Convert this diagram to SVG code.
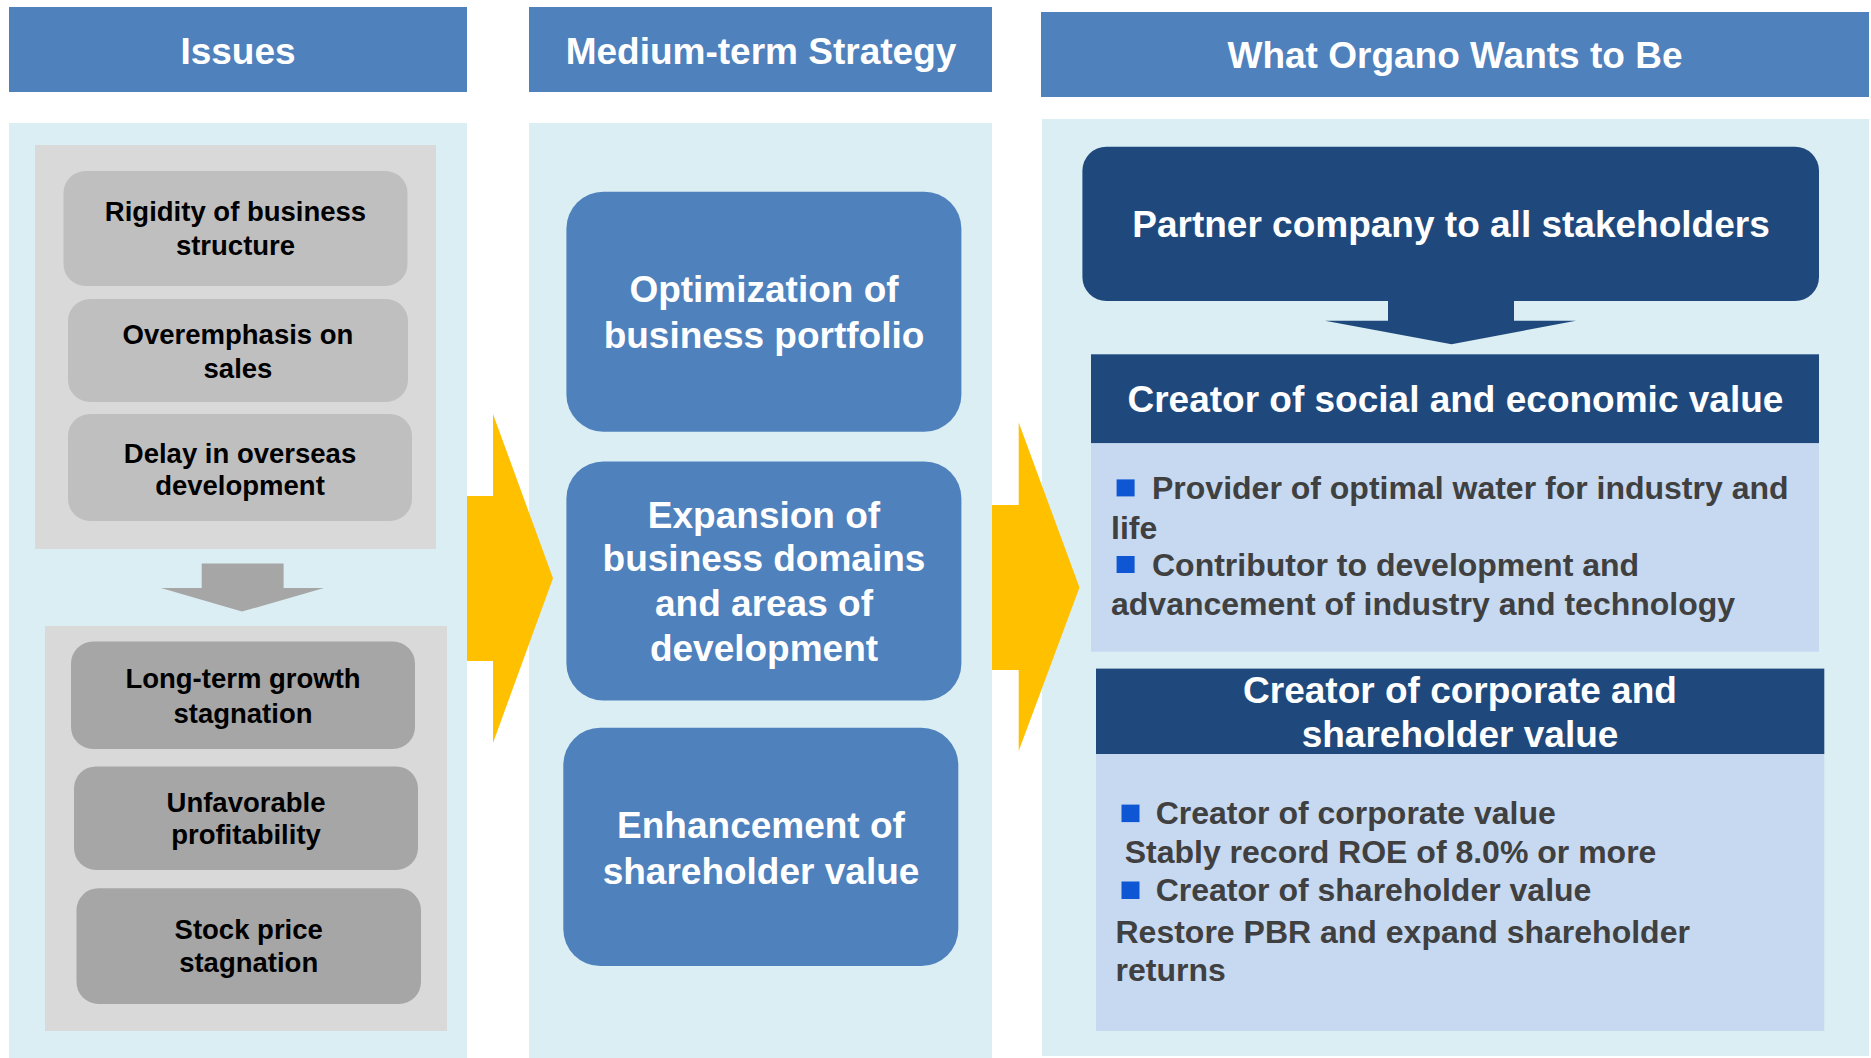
<svg xmlns="http://www.w3.org/2000/svg" width="1871" height="1058" viewBox="0 0 1871 1058">
<style>
text{font-family:"Liberation Sans",Arial,sans-serif;font-weight:bold}
.hdr{fill:#4F81BD}
.panel{fill:#DAEEF3}
.gbox{fill:#D9D9D9}
.issueA{fill:#BFBFBF}
.issueB{fill:#A6A6A6}
.strat{fill:#4F81BD}
.navy{fill:#1F497D}
.lbox{fill:#C6D9F1}
.bul{fill:#0E56D4}
.ht{fill:#FFFFFF;font-size:37px;text-anchor:middle}
.it{fill:#000000;font-size:27.5px;text-anchor:middle}
.st{fill:#FFFFFF;font-size:37px;text-anchor:middle}
.bt{fill:#404040;font-size:32px}
.yarrow{fill:#FFC000}
.garrow{fill:#A6A6A6}
</style>

<g id="col-issues">
  <rect class="hdr" x="9" y="7" width="458" height="85"/>
  <text class="ht" x="238" y="64">Issues</text>
  <rect class="panel" x="9" y="123" width="458" height="935"/>
  <rect class="gbox" x="35" y="145" width="401" height="404"/>
  <rect class="gbox" x="45" y="626" width="402" height="405"/>
</g>

<g id="col-strategy">
  <rect class="hdr" x="529" y="7" width="463" height="85"/>
  <text class="ht" x="761" y="64">Medium-term Strategy</text>
  <rect class="panel" x="529" y="123" width="463" height="935"/>
</g>

<g id="col-vision">
  <rect class="hdr" x="1041" y="12" width="828" height="85"/>
  <text class="ht" x="1455" y="68">What Organo Wants to Be</text>
  <rect class="panel" x="1042" y="119" width="827" height="937"/>
</g>

<g id="issue-rigidity">
  <rect class="issueA" x="63.5" y="171" width="344" height="115" rx="22"/>
  <text class="it" x="235.5" y="221">Rigidity of business</text>
  <text class="it" x="235.5" y="255">structure</text>
</g>
<g id="issue-overemphasis">
  <rect class="issueA" x="68" y="299" width="340" height="103" rx="22"/>
  <text class="it" x="238" y="344">Overemphasis on</text>
  <text class="it" x="238" y="377.5">sales</text>
</g>
<g id="issue-delay">
  <rect class="issueA" x="68" y="414" width="344" height="107" rx="22"/>
  <text class="it" x="240" y="462.5">Delay in overseas</text>
  <text class="it" x="240" y="494.6">development</text>
</g>
<g id="issue-growth">
  <rect class="issueB" x="71" y="641.5" width="344" height="107.5" rx="22"/>
  <text class="it" x="243" y="688">Long-term growth</text>
  <text class="it" x="243" y="722.5">stagnation</text>
</g>
<g id="issue-profitability">
  <rect class="issueB" x="74" y="766.4" width="344" height="103.6" rx="22"/>
  <text class="it" x="246" y="811.7">Unfavorable</text>
  <text class="it" x="246" y="844.3">profitability</text>
</g>
<g id="issue-stock">
  <rect class="issueB" x="76.5" y="888.2" width="344.5" height="115.8" rx="22"/>
  <text class="it" x="248.7" y="939.4">Stock price</text>
  <text class="it" x="248.7" y="972.3">stagnation</text>
</g>

<g id="strategy-portfolio">
  <rect class="strat" x="566.4" y="191.7" width="395" height="240" rx="37"/>
  <text class="st" x="764" y="302">Optimization of</text>
  <text class="st" x="764" y="347.5">business portfolio</text>
</g>
<g id="strategy-expansion">
  <rect class="strat" x="566.4" y="461.5" width="395" height="239" rx="37"/>
  <text class="st" x="764" y="527.8">Expansion of</text>
  <text class="st" x="764" y="571">business domains</text>
  <text class="st" x="764" y="615.7">and areas of</text>
  <text class="st" x="764" y="661.2">development</text>
</g>
<g id="strategy-shareholder">
  <rect class="strat" x="563.3" y="727.8" width="395" height="238.2" rx="37"/>
  <text class="st" x="761" y="838">Enhancement of</text>
  <text class="st" x="761" y="883.6">shareholder value</text>
</g>

<g id="vision-partner">
  <rect class="navy" x="1082.4" y="146.7" width="736.6" height="154.3" rx="24"/>
  <text class="st" x="1451" y="237.3">Partner company to all stakeholders</text>
</g>

<g id="vision-social">
  <rect class="navy" x="1091" y="354.3" width="728" height="89"/>
  <text class="st" x="1455.4" y="411.7">Creator of social and economic value</text>
  <rect class="lbox" x="1091" y="443.3" width="728" height="208.4"/>
  <rect class="bul" x="1116.6" y="479.4" width="18" height="17"/>
  <text class="bt" x="1152" y="499">Provider of optimal water for industry and</text>
  <text class="bt" x="1111" y="538.5">life</text>
  <rect class="bul" x="1116.6" y="556" width="18" height="17"/>
  <text class="bt" x="1152" y="576">Contributor to development and</text>
  <text class="bt" x="1111" y="615.4">advancement of industry and technology</text>
</g>

<g id="vision-corporate">
  <rect class="navy" x="1096" y="668.6" width="728.3" height="85.4"/>
  <text class="st" x="1460" y="703.3">Creator of corporate and</text>
  <text class="st" x="1460" y="746.7">shareholder value</text>
  <rect class="lbox" x="1096" y="754" width="728.3" height="277"/>
  <rect class="bul" x="1121.5" y="804.6" width="18" height="17.5"/>
  <text class="bt" x="1155.7" y="824.3">Creator of corporate value</text>
  <text class="bt" x="1124.7" y="863">Stably record ROE of 8.0% or more</text>
  <rect class="bul" x="1121.5" y="881.5" width="18" height="17.5"/>
  <text class="bt" x="1155.7" y="901.2">Creator of shareholder value</text>
  <text class="bt" x="1115.5" y="942.6">Restore PBR and expand shareholder</text>
  <text class="bt" x="1115.5" y="980.8">returns</text>
</g>

<g id="connectors">
  <polygon class="garrow" points="201.7,563.6 283.6,563.6 283.6,588 324,588 242,611.6 161,588 201.7,588"/>
  <polygon class="navy" points="1388,300 1514,300 1514,320.7 1576,320.7 1451.5,344.3 1325,320.7 1388,320.7"/>
  <polygon class="yarrow" points="467,496 493,496 493,414 553,578.3 493,743 493,661 467,661"/>
  <polygon class="yarrow" points="992,505 1018.7,505 1018.7,422.6 1079.5,587.5 1018.7,751 1018.7,670 992,670"/>
</g>
</svg>
